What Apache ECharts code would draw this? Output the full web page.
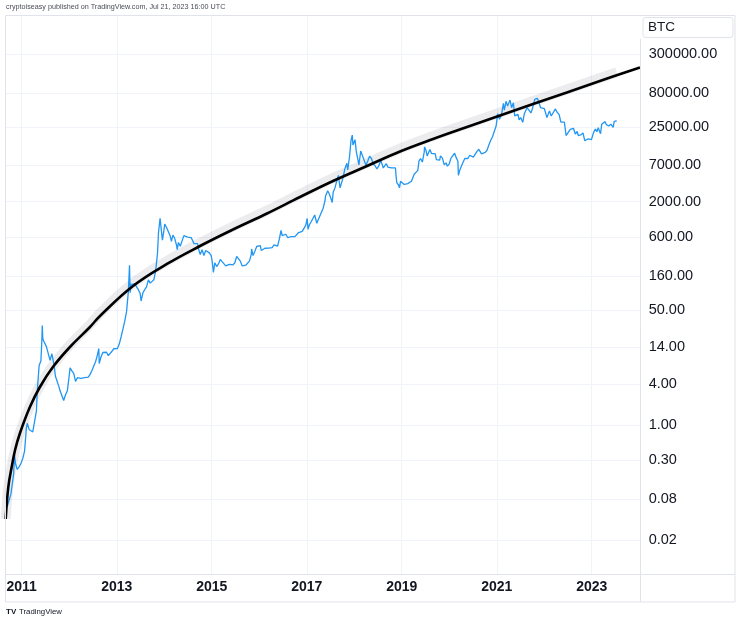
<!DOCTYPE html>
<html>
<head>
<meta charset="utf-8">
<script src="https://cdn.jsdelivr.net/npm/echarts@6/dist/echarts.min.js"></script>
<style>
html,body{margin:0;padding:0;background:#fff;}
#chart{width:740px;height:622px;}
</style>
</head>
<body>
<div id="chart"></div>
<script>
// ---- Data ----
const priceDates = [
'2010-08-26','2010-09-12','2010-09-26','2010-10-10','2010-10-17','2010-10-31','2010-11-07','2010-11-14','2010-11-28','2010-12-12','2010-12-26',
'2011-01-09','2011-01-23','2011-02-06','2011-02-13','2011-02-27','2011-03-13','2011-03-27','2011-04-10','2011-04-24','2011-05-01','2011-05-15','2011-05-29',
'2011-06-05','2011-06-08','2011-06-12','2011-06-19','2011-06-26','2011-07-10','2011-07-24','2011-08-07','2011-08-21','2011-09-04','2011-09-18','2011-10-02',
'2011-10-16','2011-10-23','2011-11-06','2011-11-20','2011-12-04','2011-12-18',
'2012-01-01','2012-01-08','2012-01-22','2012-02-05','2012-02-19','2012-03-04','2012-03-18','2012-04-01','2012-04-15','2012-04-29','2012-05-13','2012-05-27',
'2012-06-10','2012-06-24','2012-07-08','2012-07-22','2012-08-05','2012-08-16','2012-08-19','2012-09-02','2012-09-16','2012-09-30','2012-10-14','2012-10-28',
'2012-11-11','2012-11-25','2012-12-09','2012-12-23',
'2013-01-06','2013-01-20','2013-02-03','2013-02-17','2013-03-03','2013-03-17','2013-03-31','2013-04-09','2013-04-14','2013-04-21','2013-05-05','2013-05-19',
'2013-06-02','2013-06-16','2013-06-30','2013-07-07','2013-07-21','2013-08-04','2013-08-18','2013-09-01','2013-09-15','2013-09-29','2013-10-13','2013-10-27',
'2013-11-10','2013-11-18','2013-11-30','2013-12-07','2013-12-18','2013-12-29',
'2014-01-05','2014-01-19','2014-02-02','2014-02-16','2014-02-25','2014-03-09','2014-03-23','2014-04-06','2014-04-11','2014-04-20','2014-05-04','2014-05-18',
'2014-06-01','2014-06-15','2014-06-29','2014-07-13','2014-07-27','2014-08-10','2014-08-18','2014-08-31','2014-09-14','2014-09-22','2014-10-05','2014-10-19',
'2014-11-02','2014-11-16','2014-11-30','2014-12-14','2014-12-28',
'2015-01-04','2015-01-14','2015-01-25','2015-02-08','2015-02-22','2015-03-08','2015-03-22','2015-04-05','2015-04-19','2015-05-03','2015-05-17','2015-05-31',
'2015-06-14','2015-06-28','2015-07-12','2015-07-26','2015-08-09','2015-08-23','2015-09-06','2015-09-20','2015-10-04','2015-10-18','2015-11-01','2015-11-04',
'2015-11-15','2015-11-29','2015-12-13','2015-12-27',
'2016-01-10','2016-01-17','2016-01-31','2016-02-14','2016-02-28','2016-03-13','2016-03-27','2016-04-10','2016-04-24','2016-05-08','2016-05-22','2016-06-05',
'2016-06-17','2016-06-26','2016-07-10','2016-07-24','2016-08-07','2016-08-21','2016-09-04','2016-09-18','2016-10-02','2016-10-16','2016-10-30','2016-11-13',
'2016-11-27','2016-12-11','2016-12-25',
'2017-01-04','2017-01-11','2017-01-22','2017-02-05','2017-02-19','2017-03-03','2017-03-19','2017-03-26','2017-04-09','2017-04-23','2017-05-07','2017-05-21',
'2017-05-25','2017-06-04','2017-06-11','2017-06-25','2017-07-09','2017-07-16','2017-07-23','2017-08-06','2017-08-20','2017-09-01','2017-09-14','2017-09-24',
'2017-10-08','2017-10-20','2017-11-05','2017-11-12','2017-11-26','2017-12-07','2017-12-17','2017-12-22','2017-12-31',
'2018-01-07','2018-01-17','2018-01-28','2018-02-06','2018-02-20','2018-03-04','2018-03-18','2018-04-01','2018-04-15','2018-04-29','2018-05-13','2018-05-27',
'2018-06-10','2018-06-24','2018-07-08','2018-07-24','2018-08-05','2018-08-12','2018-08-26','2018-09-05','2018-09-16','2018-09-30','2018-10-14','2018-10-28',
'2018-11-14','2018-11-20','2018-11-25','2018-12-09','2018-12-15','2018-12-23',
'2019-01-06','2019-01-20','2019-02-03','2019-02-17','2019-03-03','2019-03-17','2019-03-31','2019-04-07','2019-04-21','2019-05-05','2019-05-14','2019-05-26',
'2019-06-09','2019-06-23','2019-06-26','2019-07-07','2019-07-16','2019-07-28','2019-08-06','2019-08-18','2019-09-01','2019-09-15','2019-09-25','2019-10-06',
'2019-10-20','2019-10-26','2019-11-10','2019-11-24','2019-12-08','2019-12-18',
'2020-01-01','2020-01-15','2020-01-29','2020-02-12','2020-02-26','2020-03-08','2020-03-12','2020-03-22','2020-04-05','2020-04-19','2020-04-30','2020-05-10',
'2020-05-24','2020-06-07','2020-06-21','2020-07-05','2020-07-19','2020-08-02','2020-08-16','2020-08-30','2020-09-06','2020-09-20','2020-10-04','2020-10-18',
'2020-11-01','2020-11-15','2020-11-29','2020-12-13','2020-12-27',
'2021-01-08','2021-01-22','2021-02-07','2021-02-21','2021-02-28','2021-03-13','2021-03-25','2021-04-13','2021-04-25','2021-05-09','2021-05-19','2021-05-30',
'2021-06-13','2021-06-22','2021-07-04','2021-07-20','2021-08-01','2021-08-22','2021-09-06','2021-09-21','2021-10-03','2021-10-20','2021-10-31','2021-11-09',
'2021-11-21','2021-12-04','2021-12-19',
'2022-01-02','2022-01-22','2022-02-10','2022-02-24','2022-03-06','2022-03-28','2022-04-10','2022-04-25','2022-05-09','2022-05-22','2022-06-05','2022-06-18',
'2022-07-03','2022-07-20','2022-08-14','2022-08-28','2022-09-11','2022-09-20','2022-10-09','2022-10-26','2022-11-05','2022-11-09','2022-11-21','2022-12-05',
'2022-12-18','2022-12-30',
'2023-01-15','2023-01-29','2023-02-10','2023-02-20','2023-03-10','2023-03-19','2023-04-02','2023-04-14','2023-04-24','2023-05-12','2023-05-28','2023-06-15',
'2023-06-23','2023-07-06','2023-07-13'
];
const priceValues = [
0.064,0.062,0.062,0.095,0.10,0.19,0.36,0.27,0.22,0.24,0.27,
0.32,0.41,0.90,1.06,0.86,0.89,0.79,0.75,1.60,3.2,7.6,8.9,
18,29.6,19,17.5,16.5,14.4,13.9,9.0,11.3,8.2,5.2,5.0,
3.6,3.2,3.0,2.3,2.8,3.2,
5.3,7.0,6.3,5.8,4.4,5.0,5.3,4.9,4.9,5.0,4.9,5.1,
5.6,6.4,6.8,8.6,10.8,13.5,8.1,10.2,11.8,12.4,11.9,10.6,
10.8,12.3,13.4,13.4,
13.5,15.7,20,26,34,47,93,230,90,120,115,122,
122,100,88,68,90,100,110,140,125,130,140,190,
340,700,1140,850,540,740,
930,830,830,620,520,640,570,450,390,500,440,450,
630,590,600,630,590,590,480,480,480,400,330,390,
320,380,380,350,320,
270,180,250,220,240,280,260,255,225,240,237,230,
233,250,310,290,265,225,240,230,238,265,330,400,
320,370,435,420,
448,380,370,410,430,412,418,420,460,460,440,575,
750,630,650,660,590,580,610,610,610,640,700,700,
730,770,900,
1130,780,920,1020,1050,1270,960,970,1200,1240,1600,2050,
2400,2500,2900,2550,2500,1950,2750,3200,4100,4900,3200,3700,
4600,6000,7400,5900,9300,16000,19300,13800,14000,
16500,11000,11700,7000,11200,11500,8200,6900,8000,9400,8700,7300,
6800,6100,6700,8200,7000,6300,6700,7300,6500,6600,6300,6400,
6300,4500,3800,3500,3200,4000,
4000,3600,3400,3700,3800,4000,4100,5100,5300,5800,8000,8700,
7700,10800,12900,11400,9500,9500,11800,10300,9800,10300,8400,7900,
8200,9500,8800,7000,7500,6700,
7200,8800,9400,10400,8800,8000,4900,5800,6800,7100,8700,8700,
8700,9700,9300,9100,9200,11100,11900,11700,10200,10900,10700,11500,
13800,16000,18200,19200,26300,
40000,33000,39000,57000,45000,61000,52000,63500,49000,58000,37000,35500,
39000,32500,35000,29800,40000,49000,52000,41000,48000,65000,61000,67500,
59000,49000,46500,
47300,35000,44000,37000,38500,47000,42000,39000,30000,30000,30000,19000,
19300,23500,24300,20000,21800,19000,19400,20800,21300,15900,15800,17000,
16700,16500,
21000,23700,21600,24800,20200,28000,28500,30500,27500,26300,28000,25000,
30700,30000,31400
];

const curveDates = ['2010-08-31','2010-09-20','2010-10-16','2010-11-11','2010-12-19','2011-03-05','2011-05-21','2011-08-29','2012-01-07','2012-06-09','2012-08-25','2013-05-06','2014-01-22','2014-10-03','2015-06-14','2016-03-01','2016-11-10','2017-07-22','2018-04-09','2018-12-19','2019-08-30','2020-05-17','2021-01-26','2021-10-07','2022-06-24','2023-03-05','2024-01-07'];
const curveValues = [0.0408,0.121,0.239,0.427,0.762,1.845,3.646,7.20,14.22,28.1,40.9,113.4,240,442.6,776,1338,2346,4045,6739,11040,16890,25410,37580,55590,82220,121600,192500];

const bandDates = ['2010-08-31','2010-09-20','2010-10-16','2010-11-11','2010-12-19','2011-03-05','2011-05-21','2011-08-29','2012-01-07','2012-06-09','2012-08-25','2013-05-06','2014-01-22','2014-10-03','2015-06-14','2016-03-01','2016-11-10','2017-07-22','2018-04-09','2018-12-19','2019-08-30','2020-05-17','2021-01-26','2021-10-07','2022-06-24','2023-03-05','2023-07-13'];
const bandValues = [0.041,0.121,0.24,0.43,0.78,1.9,3.8,7.6,15.3,30.5,45,125,266,490,860,1480,2600,4480,7460,12220,18700,28130,41600,61540,91000,134600,163400];

const priceTicks = [300000, 80000, 25000, 7000, 2000, 600, 160, 50, 14, 4, 1, 0.3, 0.08, 0.02];
const yearTicks = ['2011','2013','2015','2017','2019','2021','2023'];

// ---- Build ----
const toTs = s => Date.parse(s + 'T00:00:00Z');
const pair = (d, v) => d.map((s, i) => [toTs(s), v[i]]);
const FONT = '"Liberation Sans", Arial, sans-serif';
const TXT = '#131722';
const GRID = '#f0f3fa';
const BORDER = '#e0e3eb';

const chart = echarts.init(document.getElementById('chart'), null, {renderer: 'canvas'});
chart.setOption({
  animation: false,
  backgroundColor: '#ffffff',
  grid: {left: 5, right: 99.3, top: 15, bottom: 47.7, show: false},
  xAxis: {
    type: 'time',
    min: Date.UTC(2010, 7, 25, 14),
    max: Date.UTC(2024, 0, 12, 19),
    axisLine: {show: false}, axisTick: {show: false}, axisLabel: {show: false}, splitLine: {show: false}
  },
  yAxis: {
    type: 'log', logBase: 10, position: 'right',
    min: 0.006209, max: 1149800,
    axisLine: {show: false}, axisTick: {show: false}, axisLabel: {show: false}, splitLine: {show: false}
  },
  series: [
    {
      type: 'line', data: [], z: 0, silent: true,
      markLine: {
        z: 0,
        silent: true, symbol: 'none', animation: false,
        lineStyle: {color: GRID, width: 1, type: 'solid'},
        emphasis: {disabled: true},
        data: priceTicks.map(v => ({
          yAxis: v,
          label: {show: true, position: 'end', distance: 8, formatter: v.toFixed(2),
                  color: TXT, fontSize: 14.5, fontFamily: FONT}
        })).concat(yearTicks.map(y => ({
          xAxis: toTs(y + '-01-01'),
          label: {show: true, position: 'start', distance: 6, formatter: y,
                  color: TXT, fontSize: 14, fontWeight: 'bold', fontFamily: FONT}
        })))
      }
    },
    {
      name: 'band', type: 'line', data: pair(bandDates, bandValues), smooth: 0.4,
      symbol: 'none', z: 2, silent: true,
      lineStyle: {color: 'rgba(120,123,134,0.14)', width: 10}
    },
    {
      name: 'BTC', type: 'line', data: pair(priceDates, priceValues),
      symbol: 'none', z: 3,
      lineStyle: {color: '#2196f3', width: 1.3}
    },
    {
      name: 'curve', type: 'line', data: pair(curveDates, curveValues), smooth: 0.4,
      symbol: 'none', z: 4,
      lineStyle: {color: '#000000', width: 2.6}
    }
  ],
  graphic: [
    {type: 'text', left: 6, top: 4, style: {text: 'cryptoiseasy published on TradingView.com, Jul 21, 2023 16:00 UTC', fontSize: 7.2, fill: '#4a4d57', fontFamily: FONT}},
    {type: 'rect', shape: {x: 5.5, y: 15.5, width: 729.5, height: 586.5}, style: {fill: 'none', stroke: BORDER, lineWidth: 1}, z: 10},
    {type: 'line', shape: {x1: 640.5, y1: 39, x2: 640.5, y2: 602}, style: {stroke: BORDER, lineWidth: 1}, z: 10},
    {type: 'line', shape: {x1: 5, y1: 574.5, x2: 735, y2: 574.5}, style: {stroke: BORDER, lineWidth: 1}, z: 10},
    {type: 'rect', shape: {x: 643, y: 17.5, width: 90, height: 20, r: 3}, style: {fill: '#ffffff', stroke: BORDER, lineWidth: 1}, z: 11},
    {type: 'text', left: 648, top: 20.5, style: {text: 'BTC', fontSize: 13.5, fill: TXT, fontFamily: FONT}, z: 12},
    {type: 'text', left: 6, top: 608, style: {text: 'TV', fontSize: 8, fontWeight: 'bold', fill: '#131722', fontFamily: FONT}},
    {type: 'text', left: 19, top: 608, style: {text: 'TradingView', fontSize: 7.8, fill: '#131722', fontFamily: FONT}}
  ]
});
</script>
</body>
</html>
